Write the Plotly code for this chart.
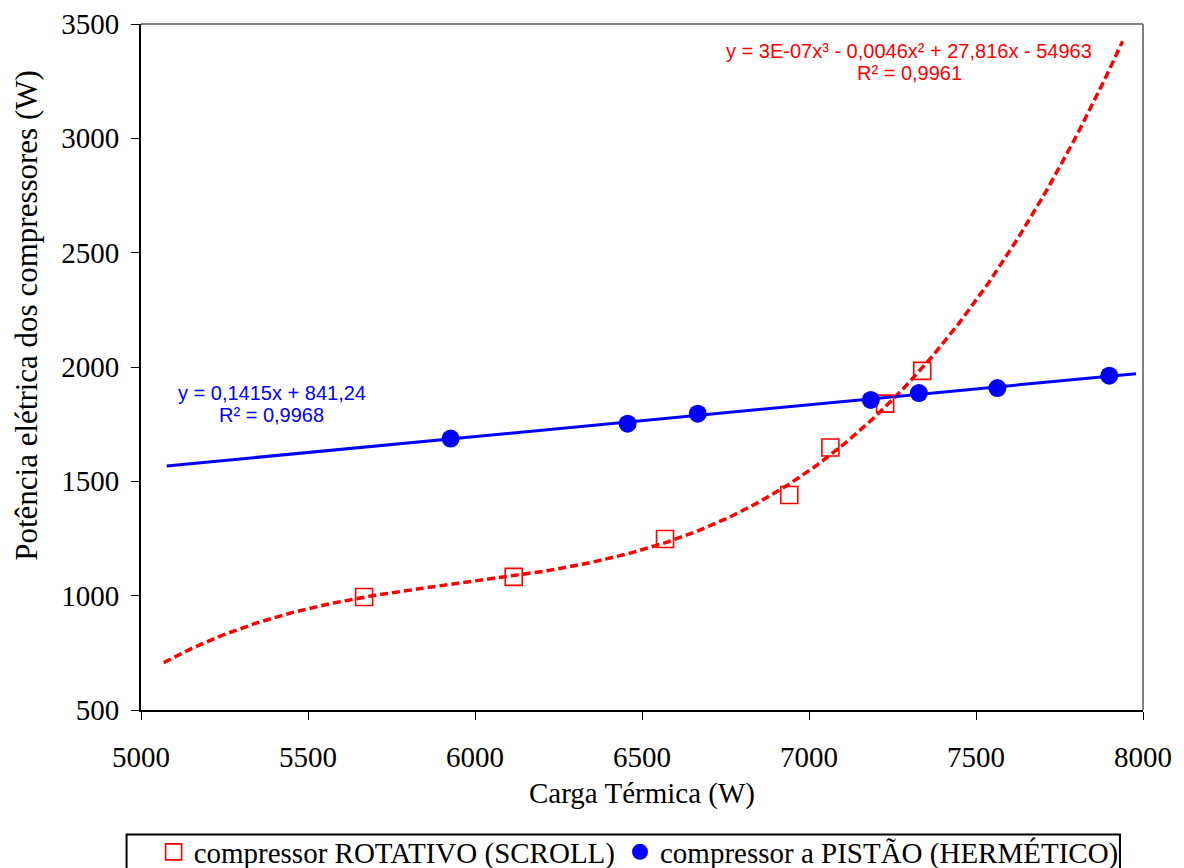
import numpy as np
import plotly.graph_objects as go

# Data
scroll_x = [5668, 6116, 6569, 6941, 7064, 7228, 7339]
scroll_y = [994, 1082, 1248, 1440, 1648, 1840, 1983]
piston_x = [5927, 6457, 6667, 7185, 7329, 7564, 7899]
piston_y = [1687, 1752, 1796, 1856, 1886, 1908, 1962]

scroll_trend_range = [5068, 7939]
piston_trend_range = [5077, 7979]

scroll_eq = ["y = 3E-07x³ - 0,0046x² + 27,816x - 54963", "R² = 0,9961"]
piston_eq = ["y = 0,1415x + 841,24", "R² = 0,9968"]

x_ticks = [5000, 5500, 6000, 6500, 7000, 7500, 8000]
y_ticks = [500, 1000, 1500, 2000, 2500, 3000, 3500]

# Trendlines fitted from the data (as the spreadsheet did)
c3 = np.polyfit(scroll_x, scroll_y, 3)
tx_s = np.linspace(scroll_trend_range[0], scroll_trend_range[1], 300)
ty_s = np.polyval(c3, tx_s)
c1 = np.polyfit(piston_x, piston_y, 1)
tx_p = np.array(piston_trend_range)
ty_p = np.polyval(c1, tx_p)

SERIF = "Liberation Serif, Times New Roman, serif"
SANS = "Liberation Sans, Arial, sans-serif"
FS = 29

fig = go.Figure()
fig.add_trace(go.Scatter(x=tx_s, y=ty_s, mode="lines", showlegend=False,
                         line=dict(color="#ff0000", width=3.5, dash="8px,4px"), hoverinfo="skip"))
fig.add_trace(go.Scatter(x=tx_p, y=ty_p, mode="lines", showlegend=False,
                         line=dict(color="#0000ff", width=3), hoverinfo="skip"))
fig.add_trace(go.Scatter(x=scroll_x, y=scroll_y, mode="markers",
                         name="compressor ROTATIVO (SCROLL)",
                         marker=dict(symbol="square-open", size=17, color="#ff0000",
                                     line=dict(width=1.6, color="#ff0000"))))
fig.add_trace(go.Scatter(x=piston_x, y=piston_y, mode="markers",
                         name="compressor a PISTÃO (HERMÉTICO)",
                         marker=dict(symbol="circle", size=18, color="#0000ff")))

# Trendline equations (two lines each, tight spacing as in the reference)
for txt, yv in zip(scroll_eq, [3380, 3284]):
    fig.add_annotation(x=7300, y=yv, xref="x", yref="y", text=txt, showarrow=False,
                       xanchor="center", yanchor="middle",
                       font=dict(family=SANS, size=20, color="#ff0000"))
for txt, yv in zip(piston_eq, [1888, 1792]):
    fig.add_annotation(x=5391, y=yv, xref="x", yref="y", text=txt, showarrow=False,
                       xanchor="center", yanchor="middle",
                       font=dict(family=SANS, size=20, color="#0000ff"))

# Y-axis title (placed as in the reference, above centre)
fig.add_annotation(x=-0.1145, y=0.575, xref="paper", yref="paper",
                   xanchor="center", yanchor="middle",
                   text="Potência elétrica dos compressores (W)", textangle=-90,
                   showarrow=False, font=dict(family=SERIF, size=31, color="black"))

# Frame: grey top/right lines
fig.add_shape(type="line", xref="paper", yref="paper", x0=0, x1=1, y0=1, y1=1,
              line=dict(color="#808080", width=2))
fig.add_shape(type="line", xref="paper", yref="paper", x0=1, x1=1, y0=0, y1=1,
              line=dict(color="#808080", width=2))
# Legend box
fig.add_shape(type="rect", xref="paper", yref="paper", x0=-0.0144, x1=0.977,
              y0=-0.35, y1=-0.1815, line=dict(color="black", width=2), fillcolor="rgba(0,0,0,0)")

# The page body has an 8px margin, so the figure is sized to fit the window
fig.update_layout(
    width=1176, height=860,
    margin=dict(l=133, r=41, t=16, b=158, autoexpand=False),
    paper_bgcolor="white", plot_bgcolor="white",
    font=dict(family=SERIF, size=FS, color="black"),
    showlegend=True,
    legend=dict(orientation="h", x=0.0126, y=0.0186, xanchor="left", yanchor="middle",
                yref="container",
                font=dict(family=SERIF, size=FS, color="black"),
                bgcolor="rgba(0,0,0,0)", borderwidth=0, itemwidth=30,
                tracegroupgap=0),
    xaxis=dict(range=[5000, 8000], tickvals=x_ticks, ticktext=[str(v) for v in x_ticks],
               automargin=False,
               showgrid=False, zeroline=False, showline=True, linecolor="black", linewidth=2,
               ticks="outside", ticklen=8, tickwidth=1, tickcolor="black",
               ticklabelstandoff=12,
               tickfont=dict(family=SERIF, size=FS, color="black"),
               title=dict(text="Carga Térmica (W)", font=dict(family=SERIF, size=FS, color="black"),
                          standoff=11)),
    yaxis=dict(range=[500, 3500], tickvals=y_ticks, ticktext=[str(v) for v in y_ticks],
               automargin=False,
               showgrid=False, zeroline=False, showline=True, linecolor="black", linewidth=2,
               ticks="outside", ticklen=8, tickwidth=1, tickcolor="black",
               ticklabelstandoff=6,
               tickfont=dict(family=SERIF, size=FS, color="black")),
)

fig.write_html("out.html")
